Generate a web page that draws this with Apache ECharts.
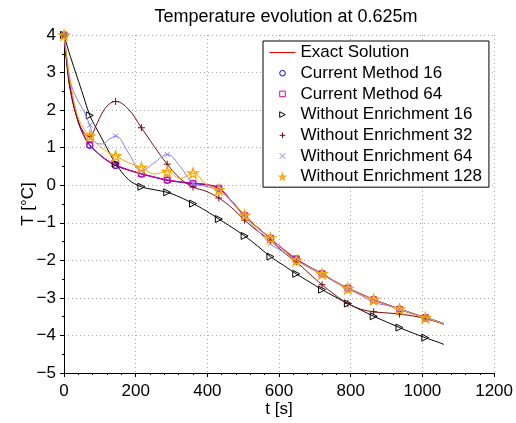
<!DOCTYPE html>
<html><head><meta charset="utf-8">
<script src="https://cdn.jsdelivr.net/npm/echarts@6/dist/echarts.min.js"></script>
<style>html,body{margin:0;padding:0;background:#fff}#c{width:516px;height:423px}</style>
</head><body><div id="c"></div>
<script>
// time samples [s]; markers are drawn at multiples of 72 s
const times = [0, 9, 18, 36, 54, 72, 90, 108, 126, 144, 180, 216, 252, 288, 324, 360, 396, 432, 468, 504, 540, 576, 612, 648, 684, 720, 756, 792, 828, 864, 900, 936, 972, 1008, 1044, 1060];
const exactSolution   = [4, 3.25, 2.58, 1.82, 1.36, 1.07, 0.9, 0.75, 0.63, 0.53, 0.41, 0.31, 0.22, 0.14, 0.09, 0.05, 0.02, -0.08, -0.42, -0.8, -1.12, -1.42, -1.72, -1.98, -2.18, -2.37, -2.57, -2.75, -2.9, -3.05, -3.18, -3.3, -3.42, -3.53, -3.64, -3.7];
const currentMethod16 = [4, 3.2, 2.55, 1.8, 1.34, 1.06, 0.89, 0.74, 0.62, 0.52, 0.4, 0.3, 0.21, 0.13, 0.08, 0.04, 0.01, -0.09, -0.43, -0.82, -1.13, -1.42, -1.71, -1.97, -2.17, -2.35, -2.56, -2.74, -2.89, -3.04, -3.17, -3.29, -3.41, -3.52, -3.63, -3.69];
const currentMethod64 = [4, 3.22, 2.58, 1.82, 1.36, 1.08, 0.9, 0.75, 0.63, 0.54, 0.41, 0.3, 0.22, 0.14, 0.09, 0.05, 0.02, -0.08, -0.42, -0.81, -1.12, -1.41, -1.7, -1.96, -2.17, -2.36, -2.56, -2.74, -2.9, -3.05, -3.18, -3.31, -3.42, -3.53, -3.64, -3.7];
const withoutEnr16    = [4, 3.7, 3.42, 2.9, 2.38, 1.86, 1.52, 1.2, 0.88, 0.58, 0.15, -0.04, -0.12, -0.19, -0.32, -0.49, -0.68, -0.9, -1.12, -1.35, -1.62, -1.9, -2.13, -2.36, -2.57, -2.78, -2.97, -3.15, -3.32, -3.49, -3.64, -3.79, -3.93, -4.06, -4.18, -4.24];
const withoutEnr32    = [4, 3.1, 2.5, 1.8, 1.42, 1.3, 1.6, 1.95, 2.16, 2.23, 2.02, 1.53, 1.03, 0.56, 0.18, -0.05, -0.16, -0.34, -0.6, -0.93, -1.22, -1.47, -1.78, -2.04, -2.35, -2.65, -2.92, -3.15, -3.3, -3.37, -3.4, -3.43, -3.48, -3.55, -3.65, -3.7];
const withoutEnr64    = [4, 3.3, 2.75, 2.3, 2.0, 1.6, 1.12, 1.1, 1.22, 1.31, 0.86, 0.38, 0.6, 0.82, 0.5, 0.05, -0.03, -0.14, -0.45, -0.85, -1.2, -1.56, -1.78, -2.0, -2.2, -2.38, -2.58, -2.76, -2.93, -3.12, -3.2, -3.3, -3.42, -3.52, -3.63, -3.69];
const withoutEnr128   = [4, 3.35, 2.75, 1.9, 1.52, 1.31, 1.12, 0.98, 0.86, 0.78, 0.6, 0.47, 0.3, 0.36, 0.18, 0.32, 0.03, -0.12, -0.42, -0.8, -1.12, -1.41, -1.72, -2.0, -2.18, -2.36, -2.56, -2.75, -2.9, -3.04, -3.18, -3.3, -3.42, -3.53, -3.64, -3.7];
const seriesNames = ['Exact Solution', 'Current Method 16', 'Current Method 64', 'Without Enrichment 16', 'Without Enrichment 32', 'Without Enrichment 64', 'Without Enrichment 128'];
const xTicks = [0, 200, 400, 600, 800, 1000, 1200];
const yTicks = [-5, -4, -3, -2, -1, 0, 1, 2, 3, 4];

const FONT = 'Liberation Sans';
const STAR = 'path://M10,0L12.245,6.91L19.51,6.91L13.633,11.18L15.878,18.09L10,13.82L4.122,18.09L6.367,11.18L0.49,6.91L7.755,6.91Z';
const styles = [
  {color: '#ff0000', symbol: 'none', size: 0, bw: 1},
  {color: '#0000ff', symbol: 'circle', size: 6, bw: 1},
  {color: '#e000a0', symbol: 'rect', size: 6, bw: 1},
  {color: '#000000', symbol: 'path://M0,0L10,5L0,10Z', size: 7, bw: 1},
  {color: '#7a0a0a', symbol: 'path://M5,0L5,10M0,5L10,5', size: 7, bw: 1},
  {color: '#8080ff', symbol: 'path://M0,0L10,10M10,0L0,10', size: 5, bw: 1},
  {color: '#ffa500', symbol: STAR, size: 10, bw: 1.3}
];
const values = [exactSolution, currentMethod16, currentMethod64, withoutEnr16, withoutEnr32, withoutEnr64, withoutEnr128];

function build(vals, withMarkers) {
  return times.map((t, i) => (withMarkers && t % 72 === 0) ? [t, vals[i]] : {value: [t, vals[i]], symbol: 'none'});
}

const series = values.map((vals, k) => {
  const s = styles[k];
  return {
    name: seriesNames[k], type: 'line', smooth: 0.4,
    data: build(vals, k > 0),
    symbol: k === 0 ? 'none' : s.symbol, symbolSize: s.size,
    lineStyle: {color: s.color, width: 1},
    itemStyle: {color: 'transparent', borderColor: s.color, borderWidth: s.bw},
    emphasis: {disabled: true}, z: 2 + k
  };
});

const legendData = seriesNames.map((n, k) => k === 0
  ? {name: n, itemStyle: {opacity: 0}, lineStyle: {color: styles[0].color, width: 1}}
  : {name: n, lineStyle: {opacity: 0, width: 0}, itemStyle: {color: 'transparent', borderColor: styles[k].color, borderWidth: styles[k].bw}});

const minus = v => v < 0 ? '\u2212' + Math.abs(v) : String(v);

const chart = echarts.init(document.getElementById('c'), null, {renderer: 'canvas'});
chart.setOption({
  animation: false,
  backgroundColor: '#fff',
  textStyle: {fontFamily: FONT},
  title: {text: 'Temperature evolution at 0.625m', left: 281, textAlign: 'center', top: 3,
    textStyle: {fontFamily: FONT, fontSize: 18, fontWeight: 'normal', color: '#000'}},
  grid: {left: 64, right: 21, top: 35, bottom: 48, containLabel: false},
  legend: {
    data: legendData, orient: 'vertical', left: 263, top: 41,
    itemWidth: 26, itemHeight: 7, itemGap: 3.7,
    padding: [3, 7, 2, 6], borderColor: '#000', borderWidth: 1, backgroundColor: '#fff',
    textStyle: {fontFamily: FONT, fontSize: 17, color: '#000'},
    selectedMode: false
  },
  xAxis: {
    type: 'value', min: xTicks[0], max: xTicks[xTicks.length - 1], interval: 200,
    name: 't [s]', nameLocation: 'middle', nameGap: 28, nameMoveOverlap: false,
    nameTextStyle: {fontFamily: FONT, fontSize: 17, color: '#000'},
    axisLine: {onZero: false, lineStyle: {color: '#000', width: 1}},
    axisTick: {inside: false, length: 4, lineStyle: {color: '#000'}},
    minorTick: {show: true, splitNumber: 5, length: 2, lineStyle: {color: '#000'}},
    axisLabel: {fontFamily: FONT, fontSize: 17, color: '#000', margin: 10, formatter: v => String(v)},
    splitLine: {show: true, lineStyle: {color: '#aaaaaa', type: [1, 3], width: 1}}
  },
  yAxis: {
    type: 'value', min: yTicks[0], max: yTicks[yTicks.length - 1], interval: 1,
    name: 'T [\u00B0C]', nameLocation: 'middle', nameGap: 27, nameRotate: 90, nameMoveOverlap: false,
    nameTextStyle: {fontFamily: FONT, fontSize: 17, color: '#000'},
    axisLine: {show: true, onZero: false, lineStyle: {color: '#000', width: 1}},
    axisTick: {show: true, inside: false, length: 4, lineStyle: {color: '#000'}},
    minorTick: {show: true, splitNumber: 2, length: 2, lineStyle: {color: '#000'}},
    axisLabel: {fontFamily: FONT, fontSize: 17, color: '#000', margin: 8, formatter: minus},
    splitLine: {show: true, lineStyle: {color: '#aaaaaa', type: [1, 3], width: 1}}
  },
  series: series
});
</script></body></html>
